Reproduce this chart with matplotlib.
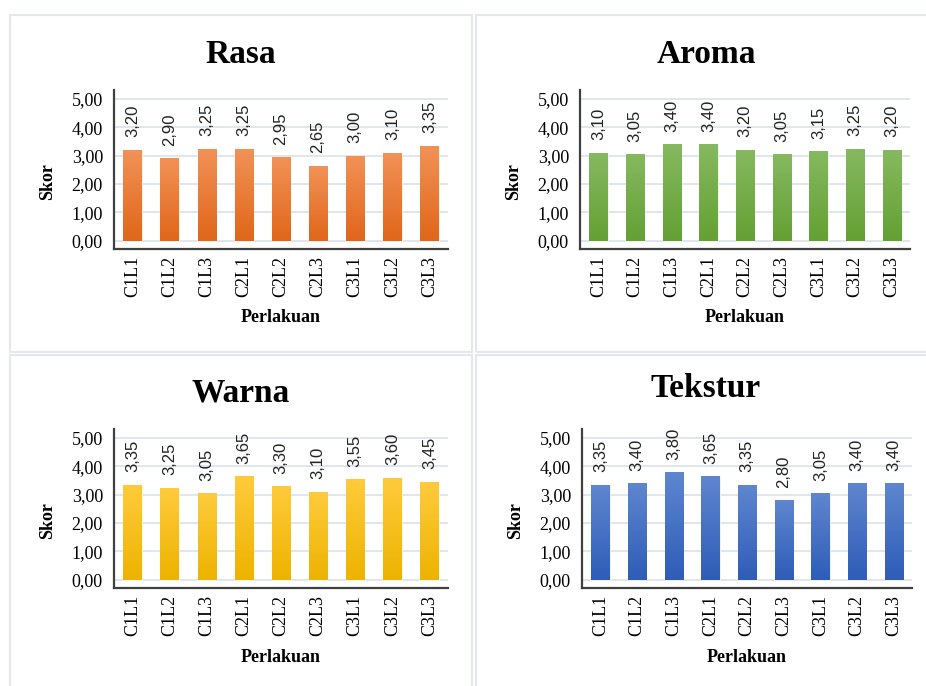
import numpy as np
import matplotlib.pyplot as plt
from matplotlib.colors import LinearSegmentedColormap
from matplotlib.patches import Rectangle

# data
perlakuan = ['C1L1', 'C1L2', 'C1L3', 'C2L1', 'C2L2', 'C2L3', 'C3L1', 'C3L2', 'C3L3']
rasa = [3.20, 2.90, 3.25, 3.25, 2.95, 2.65, 3.00, 3.10, 3.35]
aroma = [3.10, 3.05, 3.40, 3.40, 3.20, 3.05, 3.15, 3.25, 3.20]
warna = [3.35, 3.25, 3.05, 3.65, 3.30, 3.10, 3.55, 3.60, 3.45]
tekstur = [3.35, 3.40, 3.80, 3.65, 3.35, 2.80, 3.05, 3.40, 3.40]
yticks = [0, 1, 2, 3, 4, 5]

serif = 'Liberation Serif'
sans = 'Liberation Sans'

fig = plt.figure(figsize=(9.26, 6.86), dpi=100)
W, H = 926, 686

def fx(px):
    return px / W

def fy(py):
    return 1 - py / H

# panel frames (pixel boxes: left, top, right, bottom)
frames = [(10, 15, 472, 352), (476, 15, 940, 352), (10, 355, 472, 700), (476, 355, 940, 700)]
for l, t, r, b in frames:
    fig.patches.append(Rectangle((fx(l), fy(b)), fx(r - l), (b - t) / H, transform=fig.transFigure,
                                 fill=False, edgecolor='#E4E7EC', linewidth=1.5, zorder=0))

panels = [
    ('Rasa', rasa, ('#F29257', '#E0661A'), (114, 90, 448, 249), 241, 63),
    ('Aroma', aroma, ('#86B960', '#64A033'), (580, 90, 910, 249), 706, 63),
    ('Warna', warna, ('#FFCB3C', '#EDB300'), (114, 429, 448, 588), 241, 402),
    ('Tekstur', tekstur, ('#5F86CF', '#2E5CB7'), (582, 429, 912, 588), 706, 397),
]

for title, vals, (ctop, cbot), (l, t, r, b), tx, ty in panels:
    ax = fig.add_axes([fx(l), fy(b), fx(r - l), (b - t) / H])
    x = np.arange(len(perlakuan))
    bars = ax.bar(x, vals, width=0.5, color=cbot, edgecolor='#FFFFFF', linewidth=0.6, zorder=2)
    cmap = LinearSegmentedColormap.from_list('g', [cbot, ctop])
    grad = np.linspace(0, 1, 256).reshape(-1, 1)
    for bar in bars:
        bx, bw, bh = bar.get_x(), bar.get_width(), bar.get_height()
        im = ax.imshow(grad, extent=(bx, bx + bw, 0, bh), origin='lower', cmap=cmap,
                       aspect='auto', zorder=3)
        im.set_clip_path(bar)
        ax.annotate(f'{bh:.2f}'.replace('.', ','), (bar.get_x() + bw / 2, bh),
                    xytext=(0, 9), textcoords='offset points', rotation=90,
                    ha='center', va='bottom', fontsize=12, family=sans, color='#222222')
    ax.set_xlim(-0.5, len(perlakuan) - 0.5)
    ax.set_ylim(-0.3, 5.32)
    ax.set_yticks(yticks)
    ax.set_yticklabels([f'{v:.2f}'.replace('.', ',') for v in yticks], fontsize=13, family=serif)
    ax.set_xticks(x)
    ax.set_xticklabels(perlakuan, rotation=90, fontsize=13, family=serif)
    ax.tick_params(length=0, pad=8)
    ax.tick_params(axis='x', pad=5)
    ax.grid(axis='y', color='#DCE1EA', linewidth=1.2, zorder=0)
    ax.set_axisbelow(True)
    for s in ['top', 'right']:
        ax.spines[s].set_visible(False)
    for s in ['left', 'bottom']:
        ax.spines[s].set_color('#404040')
        ax.spines[s].set_linewidth(1.6)

    fig.text(fx(tx), fy(ty), title, ha='center', va='baseline', fontsize=24,
             fontweight='bold', family=serif)
    fig.text(fx(l - 66), fy((t + b) / 2 + 12), 'Skor', rotation=90, ha='center', va='center',
             fontsize=13, fontweight='bold', family=serif)
    fig.text(fx((l + r) / 2), fy(b + 69), 'Perlakuan', ha='center', va='center',
             fontsize=13, fontweight='bold', family=serif)

plt.savefig('out.png', dpi=100)
